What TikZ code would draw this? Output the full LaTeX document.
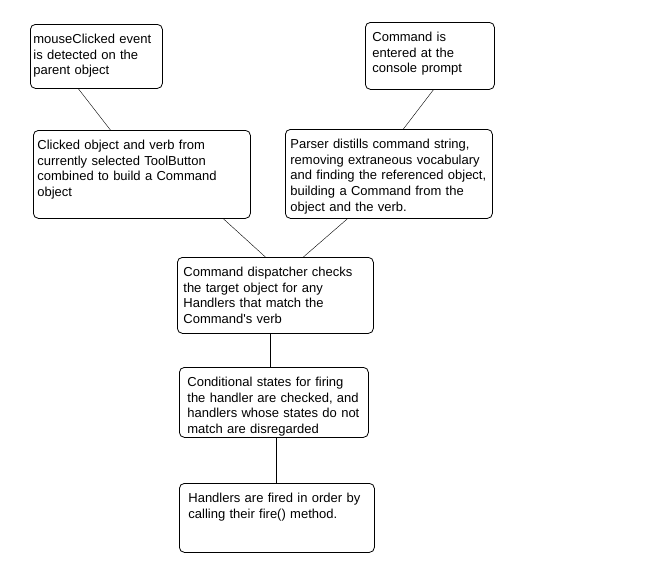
\documentclass[tikz,border=0pt]{standalone}
\usepackage{fontspec}
\setmainfont{Liberation Sans}
\tikzset{stepbox/.style={draw, thick, rounded corners=5pt, anchor=north west, align=left,
    inner ysep=0pt, text height=19pt, font=\fontsize{13}{15.7}\selectfont},
    link/.style={draw, thin}}

\begin{document}
\begin{tikzpicture}[x=1pt, y=-1pt, line width=0.8pt]
            \useasboundingbox (0,0) rectangle (657,576);
            \node[stepbox, inner xsep=3pt, text width=126pt, text depth=45pt] (click) at (30,24)
                {mouseClicked event\\is detected on the\\parent object};
            \node[stepbox, inner xsep=7pt, text width=115pt, text depth=48pt] (console) at (365,22)
                {Command is\\entered at the\\console prompt};
            \node[stepbox, inner xsep=4pt, text width=209pt, text depth=69pt] (build) at (33,130)
                {Clicked object and verb from\\currently selected ToolButton\\combined to build a Command\\object};
            \node[stepbox, inner xsep=5pt, text width=197pt, text depth=70pt] (parser) at (285,129)
                {Parser distills command string,\\removing extraneous vocabulary\\and finding the referenced object,\\building a Command from the\\object and the verb.};
            \node[stepbox, inner xsep=6pt, text width=184pt, text depth=57pt] (dispatch) at (177,257)
                {Command dispatcher checks\\the target object for any\\Handlers that match the\\Command\textquotesingle s verb};
            \node[stepbox, inner xsep=8pt, text width=173pt, text depth=51pt] (states) at (179,367)
                {Conditional states for firing\\the handler are checked, and\\handlers whose states do not\\match are disregarded};
            \node[stepbox, inner xsep=9pt, text width=177pt, text depth=50pt] (fire) at (179,483)
                {Handlers are fired in order by\\calling their fire() method.};
            \draw[link] ([xshift=-18pt]click.south) -- ([xshift=-31.5pt]build.north);
            \draw[link] ([xshift=3.5pt]console.south) -- ([xshift=14.5pt]parser.north);
            \draw[link] ([xshift=81.5pt]build.south) -- ([xshift=-10pt]dispatch.north);
            \draw[link] ([xshift=-41.5pt]parser.south) -- ([xshift=28pt]dispatch.north);
            \draw[link] ([xshift=-5pt]dispatch.south) -- ([xshift=-5pt]dispatch.south |- states.north);
            \draw[link] ([xshift=2.5pt]states.south) -- ([xshift=2.5pt]states.south |- fire.north);
        \end{tikzpicture}
\end{document}
